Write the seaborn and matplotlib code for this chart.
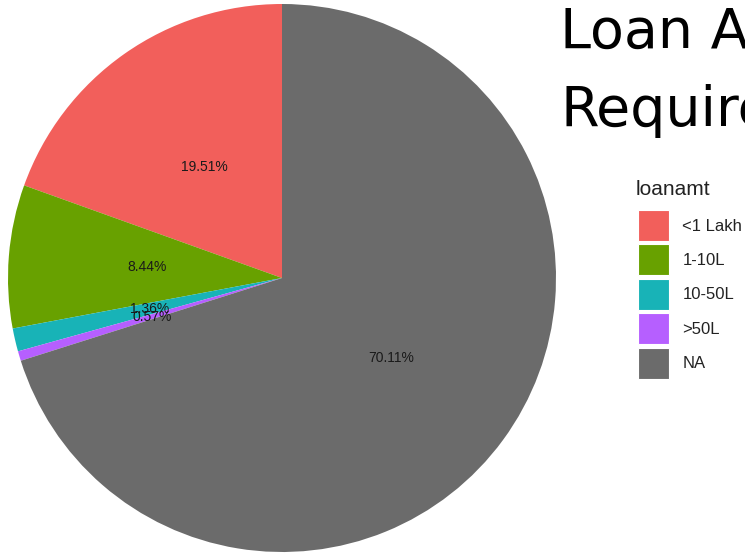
import matplotlib
matplotlib.use("Agg")
import matplotlib.pyplot as plt
from matplotlib.patches import Patch
import seaborn as sns

# Loan amount shares (percent), drawn counter-clockwise from 12 o'clock
categories = ["<1 Lakh", "1-10L", "10-50L", ">50L", "NA"]
shares = [19.51, 8.44, 1.36, 0.57, 70.11]
labels = ["19.51%", "8.44%", "1.36%", "0.57%", "70.11%"]
colors = ["#F25F5B", "#68A100", "#18B3B7", "#B65FFF", "#6B6B6B"]
legend_title = "loanamt"

sns.set_theme(style="white")
plt.rcParams["font.family"] = ["Liberation Sans", "DejaVu Sans"]

W, H = 745, 557
fig = plt.figure(figsize=(W / 100, H / 100), dpi=100)
fig.patch.set_facecolor("white")

# square pie panel, centre (282, 278) px, radius 274 px
ax = fig.add_axes([8 / W, 5 / H, 548 / W, 548 / H])
wedges, texts = ax.pie(
    shares,
    colors=sns.color_palette(colors),
    startangle=90,
    counterclock=True,
    labels=labels,
    labeldistance=0.495,
    wedgeprops=dict(linewidth=0),
    textprops=dict(fontsize=10, color="#1a1a1a", ha="center", va="center"),
)
ax.set_xlim(-1, 1)
ax.set_ylim(-1, 1)
ax.set_aspect("auto")
ax.axis("off")

# legend title, then the keys
fig.text(636 / W, 1 - 195 / H, legend_title, fontsize=15, color="#222222",
         ha="left", va="baseline")
handles = [Patch(facecolor=c, edgecolor="white", linewidth=0.8) for c in colors]
fs = 12
leg = fig.legend(
    handles, categories,
    loc="upper left",
    bbox_to_anchor=(638 / W, 1 - 210 / H),
    frameon=False,
    fontsize=fs,
    handlelength=1.86,
    handleheight=2.48,
    handletextpad=0.8,
    labelspacing=0.21,
    borderaxespad=0,
    borderpad=0,
)
for t in leg.get_texts():
    t.set_color("#222222")

# heading, running off the right edge
heading_font = ["DejaVu Sans"]
fig.text(560 / W, 1 - 48 / H, "Loan Amount", fontsize=40, family=heading_font,
         ha="left", va="baseline", color="black")
fig.text(560 / W, 1 - 126 / H, "Required", fontsize=40, family=heading_font,
         ha="left", va="baseline", color="black")

fig.savefig("out.png", dpi=100, facecolor="white")
